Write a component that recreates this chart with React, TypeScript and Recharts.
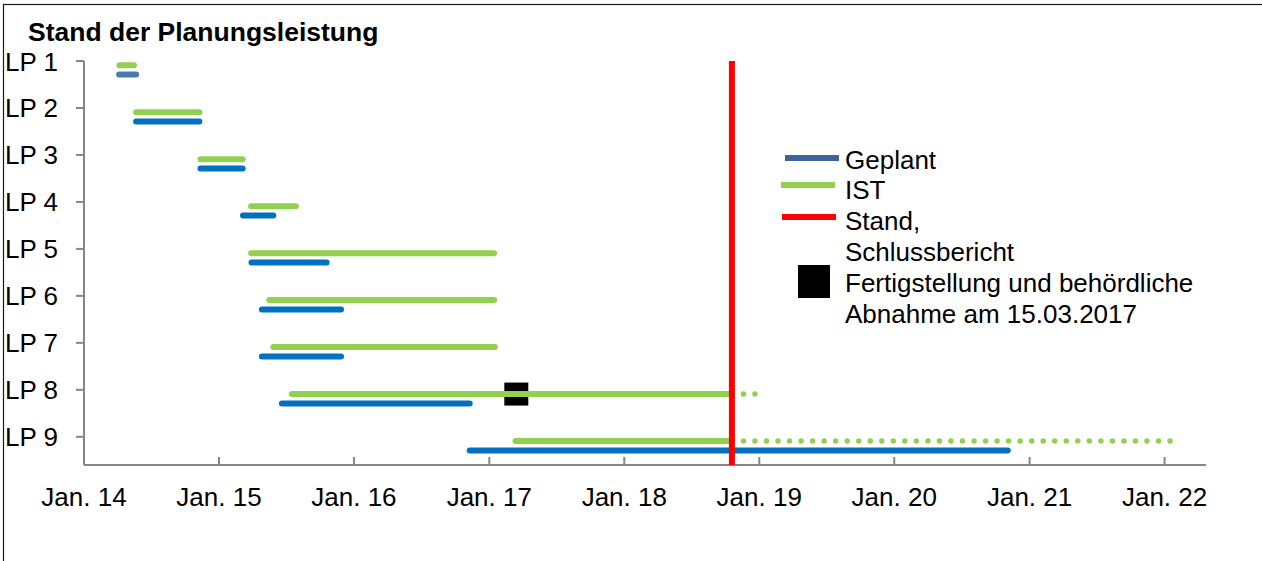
import type { ReactElement } from "react";
import { ComposedChart, Line, ReferenceLine, Scatter, XAxis, YAxis } from "recharts";

// Leistungsphasen LP 1 … LP 9, read top to bottom
const CATEGORIES = ["LP 1", "LP 2", "LP 3", "LP 4", "LP 5", "LP 6", "LP 7", "LP 8", "LP 9"];

// Geplant (blue bars)
const PLAN_START = [
  "2014-04-06", "2014-05-22", "2014-11-12", "2015-03-07", "2015-03-30",
  "2015-04-27", "2015-04-27", "2015-06-20", "2016-11-09",
];
const PLAN_END = [
  "2014-05-22", "2014-11-09", "2015-03-06", "2015-05-28", "2015-10-19",
  "2015-11-27", "2015-11-27", "2016-11-09", "2020-11-03",
];

// IST (green bars)
const IST_START = [
  "2014-04-07", "2014-05-22", "2014-11-12", "2015-03-29", "2015-03-29",
  "2015-05-17", "2015-05-28", "2015-07-17", "2017-03-13",
];
const IST_END = [
  "2014-05-16", "2014-11-09", "2015-03-06", "2015-07-28", "2017-01-14",
  "2017-01-14", "2017-01-16", "2018-10-19", "2018-10-19",
];
// IST forecast beyond the status date (dotted)
const IST_FORECAST_END = [null, null, null, null, null, null, null, "2018-12-26", "2022-01-21"];

const STAND_DATE = "2018-10-19";
const ABNAHME_DATE = "2017-03-15";
const ABNAHME_LP = 8;

const TICK_YEARS = [2014, 2015, 2016, 2017, 2018, 2019, 2020, 2021, 2022];
const X_DOMAIN = ["2014-01-01", "2022-04-23"];

const LEGEND_LABELS = ["Geplant", "IST", "Stand,", "Schlussbericht", "Fertigstellung und behördliche", "Abnahme am 15.03.2017"];

const BLUE = "#0070c0";
const BLUE_FIRST = "#4a78b2";
const BLUE_LEGEND = "#3d6599";
const GREEN = "#92d050";
const RED = "#ff0000";
const AXIS = "#868686";
const FONT = "'Liberation Sans', Arial, sans-serif";

const ts = (d: string): number => Date.parse(d);
const IST_OFFSET = 0.09;
const PLAN_OFFSET = 0.29;

function XTick(props: any): ReactElement {
  const { x, y, payload } = props;
  const yr = new Date(payload.value).getUTCFullYear();
  return (
    <g>
      <line x1={x} y1={y} x2={x} y2={y - 8} stroke={AXIS} strokeWidth={2} />
      <text x={x} y={y + 41} textAnchor="middle" fontSize={26} fontFamily={FONT} fill="#000">
        {`Jan. ${String(yr).slice(2)}`}
      </text>
    </g>
  );
}

function YTick(props: any): ReactElement {
  const { y, payload } = props;
  return (
    <text x={5} y={y + 9.5} fontSize={26} fontFamily={FONT} fill="#000">
      {CATEGORIES[payload.value - 1]}
    </text>
  );
}

function AbnahmeShape(props: any): ReactElement {
  return <rect x={props.cx - 12} y={props.cy - 11.5} width={24} height={23} fill="#000" />;
}

function Overlay(): ReactElement {
  const text = { fontSize: 26, fontFamily: FONT, fill: "#000" };
  const baselines = [169, 199, 230, 261, 292, 323];
  return (
    <svg width={1262} height={561} style={{ position: "absolute", left: 0, top: 0, pointerEvents: "none" }}>
      <rect x={3.5} y={4.5} width={1400} height={700} fill="none" stroke="#1a1a1a" strokeWidth={1.2} />
      <text x={28} y={41} fontSize={26.5} fontWeight="bold" fontFamily={FONT} fill="#000">
        Stand der Planungsleistung
      </text>
      <line x1={785} y1={158} x2={839} y2={158} stroke={BLUE_LEGEND} strokeWidth={6} />
      <line x1={781} y1={185} x2={835} y2={185} stroke={GREEN} strokeWidth={6} />
      <line x1={782} y1={217} x2={836} y2={217} stroke={RED} strokeWidth={6} />
      <rect x={798} y={265} width={32} height={33} fill="#000" />
      {LEGEND_LABELS.map((label, i) => (
        <text key={label} x={845} y={baselines[i]} {...text}>
          {label}
        </text>
      ))}
    </svg>
  );
}

export default function App(): ReactElement {
  const segment = (start: string, end: string, y: number) => [
    { t: ts(start), y },
    { t: ts(end), y },
  ];

  return (
    <div style={{ position: "absolute", left: 0, top: 0, width: 1262, height: 561, overflow: "hidden", background: "#fff" }}>
      <div style={{ position: "absolute", left: 0, top: 0 }}>
        <ComposedChart width={1262} height={561} margin={{ top: 61, right: 56, bottom: 0, left: 0 }}>
          <XAxis
            dataKey="t"
            type="number"
            domain={[ts(X_DOMAIN[0]), ts(X_DOMAIN[1])]}
            ticks={TICK_YEARS.map((y) => Date.UTC(y, 0, 1))}
            interval={0}
            height={96}
            tickSize={0}
            tickMargin={0}
            tickLine={false}
            axisLine={{ stroke: AXIS, strokeWidth: 2 }}
            tick={<XTick />}
            allowDataOverflow
          />
          <YAxis
            type="number"
            domain={[1, 9.6]}
            reversed
            ticks={CATEGORIES.map((_, i) => i + 1)}
            interval={0}
            width={84}
            tickSize={8}
            tickLine={{ stroke: AXIS, strokeWidth: 2 }}
            axisLine={{ stroke: AXIS, strokeWidth: 2 }}
            tick={<YTick />}
            allowDataOverflow
          />
          <Scatter
            data={[{ t: ts(ABNAHME_DATE), y: ABNAHME_LP + IST_OFFSET }]}
            dataKey="y"
            shape={<AbnahmeShape />}
            isAnimationActive={false}
            zIndex={350}
          />
          {CATEGORIES.map((cat, i) => (
            <Line
              key={`plan-${cat}`}
              data={segment(PLAN_START[i], PLAN_END[i], i + 1 + PLAN_OFFSET)}
              dataKey="y"
              type="linear"
              stroke={i === 0 ? BLUE_FIRST : BLUE}
              strokeWidth={6}
              strokeLinecap="round"
              dot={false}
              activeDot={false}
              isAnimationActive={false}
            />
          ))}
          {CATEGORIES.map((cat, i) => (
            <Line
              key={`ist-${cat}`}
              data={segment(IST_START[i], IST_END[i], i + 1 + IST_OFFSET)}
              dataKey="y"
              type="linear"
              stroke={GREEN}
              strokeWidth={6}
              strokeLinecap="round"
              dot={false}
              activeDot={false}
              isAnimationActive={false}
            />
          ))}
          {CATEGORIES.map((cat, i) =>
            IST_FORECAST_END[i] ? (
              <Line
                key={`fc-${cat}`}
                data={segment(IST_END[i], IST_FORECAST_END[i] as string, i + 1 + IST_OFFSET)}
                dataKey="y"
                type="linear"
                stroke={GREEN}
                strokeWidth={5.5}
                strokeLinecap="round"
                strokeDasharray="0 11.53"
                dot={false}
                activeDot={false}
                isAnimationActive={false}
              />
            ) : null,
          )}
          <ReferenceLine x={ts(STAND_DATE)} stroke={RED} strokeWidth={6} zIndex={1500} />
        </ComposedChart>
      </div>
      <Overlay />
    </div>
  );
}
